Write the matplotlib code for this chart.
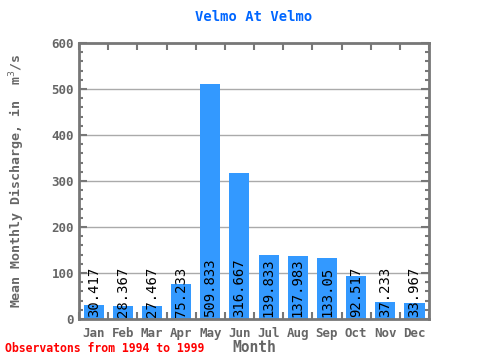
import matplotlib
matplotlib.use("Agg")
import matplotlib.pyplot as plt
import numpy as np

months = ["Jan", "Feb", "Mar", "Apr", "May", "Jun", "Jul", "Aug", "Sep", "Oct", "Nov", "Dec"]
flow = [30.417, 28.367, 27.467, 75.233, 509.833, 316.667, 139.833, 137.983, 133.05, 92.517, 37.233, 33.967]
labels = ["30.417", "28.367", "27.467", "75.233", "509.833", "316.667",
          "139.833", "137.983", "133.05", "92.517", "37.233", "33.967"]

grey = "#666666"
spine_c = "#777777"
mono = "DejaVu Sans Mono"

fig = plt.figure(figsize=(4.8, 3.6), dpi=100)
ax = fig.add_axes([0.1646, 0.1139, 0.7292, 0.7667])

x = np.arange(len(months))
ax.bar(x, flow, width=0.69, color="#3399ff", zorder=2)
for i, s in enumerate(labels):
    ax.text(i, 4, s, rotation=90, ha="center", va="bottom", fontsize=10,
            family=mono, color="black", zorder=3)

ax.set_xlim(-0.5, 11.5)
ax.set_ylim(0, 600)
for y in range(100, 600, 100):
    ax.axhline(y, color="#aaaaaa", lw=1, zorder=1)

for sp in ax.spines.values():
    sp.set_color(spine_c)
    sp.set_linewidth(2)

ax.set_yticks(range(0, 601, 100))
ax.set_yticks(range(0, 601, 20), minor=True)
ax.tick_params(axis="y", which="major", direction="in", length=6, width=1.5,
               color=spine_c, labelcolor=grey, left=True, right=True)
ax.tick_params(axis="y", which="minor", direction="in", length=3, width=1.5,
               color=spine_c, left=True, right=True)
ax.set_yticklabels([str(v) for v in range(0, 601, 100)], family=mono,
                   fontsize=9, fontweight="bold")

ax.set_xticks(x)
ax.set_xticklabels(months, family=mono, fontsize=9, fontweight="bold", color=grey)
ax.tick_params(axis="x", which="major", length=0, pad=6)
ax.set_xticks(np.arange(-0.5, 12, 1), minor=True)
ax.tick_params(axis="x", which="minor", direction="in", length=5, width=1.5,
               color=spine_c, top=True, bottom=True)

ax.set_ylabel("Mean Monthly Discharge, in  m$^3$/s", family=mono, fontsize=9.5,
              fontweight="bold", color=grey, labelpad=18)
ax.set_xlabel("Month", family=mono, fontsize=10.5, fontweight="bold", color=grey,
              labelpad=0)
ax.set_title("Velmo At Velmo", family=mono, fontsize=10, fontweight="bold",
             color="#0066ff", pad=16)

fig.text(0.01, 0.022, "Observatons from 1994 to 1999", family=mono, fontsize=8.3,
         fontweight="bold", color="red")

fig.savefig("out.png", dpi=100)
